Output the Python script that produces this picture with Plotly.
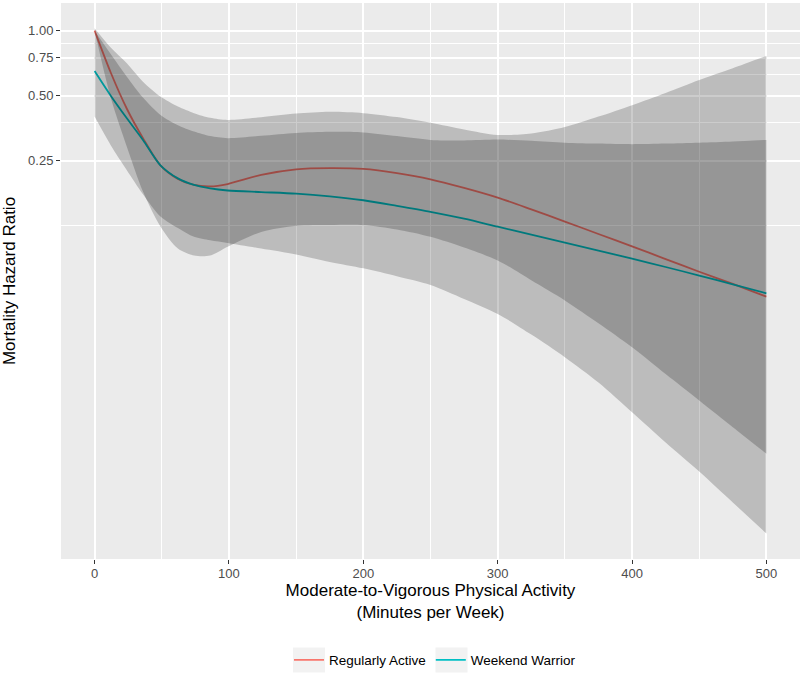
import plotly.graph_objects as go

# Minutes of moderate-to-vigorous physical activity per week
minutes = [0, 12, 24, 36, 49, 62, 74, 86, 99, 124, 150, 175, 200, 225, 250,
           275, 300, 325, 350, 375, 400, 425, 450, 475, 500]

# Regularly Active: hazard ratio and confidence band
ra_hr = [1.0, 0.64, 0.435, 0.318, 0.238, 0.206, 0.193, 0.190, 0.195, 0.215, 0.228,
         0.231, 0.229, 0.219, 0.205, 0.187, 0.1686, 0.1488, 0.1307, 0.1144, 0.1003,
         0.0876, 0.0765, 0.0672, 0.0587]
ra_hi = [1.0, 0.78, 0.612, 0.49, 0.407, 0.365, 0.341, 0.325, 0.318, 0.326, 0.336,
         0.340, 0.338, 0.325, 0.312, 0.310, 0.313, 0.309, 0.303, 0.300, 0.298,
         0.300, 0.303, 0.307, 0.312]
ra_lo = [1.0, 0.49, 0.29, 0.18, 0.124, 0.098, 0.091, 0.091, 0.100, 0.117, 0.125,
         0.126, 0.126, 0.120, 0.111, 0.099, 0.0863, 0.0699, 0.0564, 0.0442, 0.0342,
         0.0257, 0.0194, 0.0146, 0.0110]

# Weekend Warrior: hazard ratio and confidence band
ww_hr = [0.65, 0.50, 0.393, 0.312, 0.238, 0.207, 0.193, 0.186, 0.182, 0.179, 0.176,
         0.171, 0.164, 0.1545, 0.145, 0.1347, 0.1237, 0.1136, 0.1044, 0.0959, 0.0880,
         0.0805, 0.0735, 0.0669, 0.0608]
ww_hi = [1.026, 0.835, 0.706, 0.58, 0.495, 0.445, 0.415, 0.395, 0.386, 0.397, 0.413,
         0.421, 0.415, 0.398, 0.375, 0.349, 0.329, 0.334, 0.358, 0.40, 0.452,
         0.515, 0.591, 0.67, 0.764]
ww_lo = [0.40, 0.295, 0.226, 0.175, 0.138, 0.122, 0.111, 0.107, 0.104, 0.098, 0.092,
         0.085, 0.0794, 0.073, 0.0665, 0.0573, 0.0488, 0.0392, 0.0308, 0.0235, 0.0171,
         0.0124, 0.0091, 0.00654, 0.0047]

x_ticks = [0, 100, 200, 300, 400, 500]
x_minor = [50, 150, 250, 350, 450]
y_ticks = [0.25, 0.50, 0.75, 1.00]
y_ticklabels = ["0.25", "0.50", "0.75", "1.00"]
y_minor = [0.125, 0.375, 0.625, 0.875]

series_names = ["Regularly Active", "Weekend Warrior"]
line_colors = ["#F8766D", "#00BFC4"]
band_fill = "rgba(0,0,0,0.2)"

FONT = "Liberation Sans, Arial, Helvetica, sans-serif"

fig = go.Figure()

# lines first (ribbons are drawn over them, as in the reference)
for name, hr, col in [(series_names[0], ra_hr, line_colors[0]),
                      (series_names[1], ww_hr, line_colors[1])]:
    fig.add_trace(go.Scatter(x=minutes, y=hr, mode="lines", name=name,
                             line=dict(color=col, width=1.8, shape="spline", smoothing=0.8),
                             hoverinfo="skip"))

for lo, hi in [(ra_lo, ra_hi), (ww_lo, ww_hi)]:
    fig.add_trace(go.Scatter(x=minutes, y=lo, mode="lines", showlegend=False,
                             line=dict(width=0, shape="spline", smoothing=0.8),
                             hoverinfo="skip"))
    fig.add_trace(go.Scatter(x=minutes, y=hi, mode="lines", showlegend=False,
                             line=dict(width=0, shape="spline", smoothing=0.8),
                             fill="tonexty", fillcolor=band_fill, hoverinfo="skip"))

# legend geometry (pixels in the 800x674 figure)
L, T, PW, PH = 61, 3, 739, 556
leg_left = 289
key_centers = [leg_left + 20, leg_left + 20 + 142.5]
key_y = 660


def px_x(p):
    return (p - L) / PW


def px_y(p):
    return (T + PH - p) / PH


shapes = []
for cx in key_centers:
    shapes.append(dict(type="rect", xref="paper", yref="paper", layer="below",
                       x0=px_x(cx - 16), x1=px_x(cx + 16),
                       y0=px_y(key_y + 12.5), y1=px_y(key_y - 12.5),
                       fillcolor="#F2F2F2", line=dict(width=0)))

fig.update_layout(
    width=800, height=674,
    margin=dict(l=L, r=800 - L - PW, t=T, b=674 - T - PH),
    paper_bgcolor="white",
    plot_bgcolor="#EBEBEB",
    font=dict(family=FONT, color="#000000"),
    showlegend=True,
    shapes=shapes,
    legend=dict(orientation="h", xref="container", yref="container",
                x=leg_left / 800, xanchor="left",
                y=(674 - key_y) / 674, yanchor="middle",
                traceorder="normal",
                font=dict(family=FONT, size=13.5, color="#000000"),
                itemwidth=30, bgcolor="rgba(0,0,0,0)", borderwidth=0),
)

fig.update_xaxes(
    range=[-25, 525], automargin=False,
    tickmode="array", tickvals=x_ticks,
    ticks="outside", ticklen=4, tickwidth=1.1, tickcolor="#333333",
    ticklabelstandoff=-2,
    tickfont=dict(family=FONT, size=13, color="#4D4D4D"),
    showgrid=True, gridcolor="white", gridwidth=1.5,
    minor=dict(tickmode="array", tickvals=x_minor, showgrid=True,
               gridcolor="white", gridwidth=0.7, ticks=""),
    zeroline=False, showline=False,
    title=dict(text="Moderate-to-Vigorous Physical Activity<br>(Minutes per Week)",
               font=dict(family=FONT, size=17, color="#000000"), standoff=4),
)

fig.update_yaxes(
    type="log", automargin=False,
    range=[-2.446, 0.128],
    tickmode="array", tickvals=y_ticks, ticktext=y_ticklabels,
    ticks="outside", ticklen=4, tickwidth=1.1, tickcolor="#333333",
    tickfont=dict(family=FONT, size=13, color="#4D4D4D"),
    showgrid=True, gridcolor="white", gridwidth=1.5,
    minor=dict(tickmode="array", tickvals=y_minor, showgrid=True,
               gridcolor="white", gridwidth=0.7, ticks=""),
    zeroline=False, showline=False,
    title=dict(text="Mortality Hazard Ratio",
               font=dict(family=FONT, size=17, color="#000000"), standoff=13),
)

fig.write_html("out.html", config={"displayModeBar": False},
               post_script="document.body.style.margin='0';")
